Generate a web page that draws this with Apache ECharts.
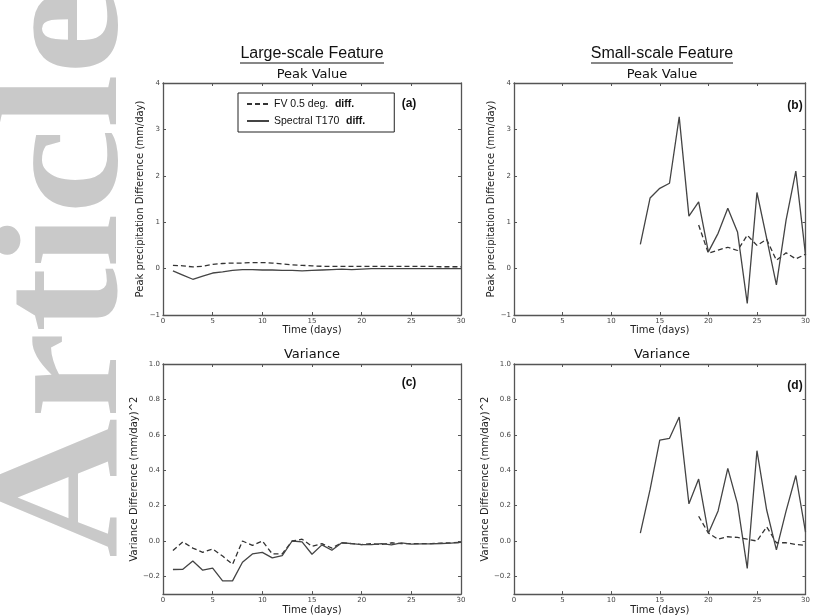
<!DOCTYPE html>
<html><head><meta charset="utf-8">
<script src="https://cdn.jsdelivr.net/npm/echarts@6/dist/echarts.min.js"></script>
<style>html,body{margin:0;padding:0;background:#fff}#c{width:813px;height:616px}</style>
</head><body><div id="c"></div>
<script>
// ---------- data ----------
const daysAll = [1,2,3,4,5,6,7,8,9,10,11,12,13,14,15,16,17,18,19,20,21,22,23,24,25,26,27,28,29,30];
const daysSp = [13,14,15,16,17,18,19,20,21,22,23,24,25,26,27,28,29,30];
const daysFv = [19,20,21,22,23,24,25,26,27,28,29,30];

// (a) Large-scale, peak value
const aFV = [0.07,0.06,0.035,0.05,0.09,0.11,0.12,0.12,0.13,0.13,0.12,0.10,0.08,0.07,0.06,0.05,0.05,0.05,0.05,0.05,0.05,0.05,0.05,0.05,0.05,0.05,0.05,0.04,0.04,0.04];
const aSP = [-0.05,-0.14,-0.23,-0.16,-0.095,-0.07,-0.04,-0.02,-0.02,-0.03,-0.03,-0.04,-0.04,-0.05,-0.04,-0.03,-0.02,-0.01,-0.02,-0.01,0,0,0,0,0,0,0,0,0,0];
// (b) Small-scale, peak value
const bSP = [0.52,1.52,1.73,1.84,3.27,1.13,1.44,0.36,0.76,1.30,0.79,-0.75,1.64,0.65,-0.35,1.05,2.10,0.29];
const bFV = [0.94,0.33,0.40,0.46,0.39,0.72,0.50,0.63,0.18,0.34,0.21,0.31];
// (c) Large-scale, variance
const cSP = [-0.161,-0.16,-0.113,-0.165,-0.153,-0.225,-0.225,-0.12,-0.073,-0.064,-0.095,-0.082,0,-0.005,-0.075,-0.022,-0.052,-0.01,-0.015,-0.02,-0.02,-0.015,-0.022,-0.01,-0.018,-0.016,-0.016,-0.014,-0.012,-0.008];
const cFV = [-0.054,-0.005,-0.04,-0.064,-0.045,-0.085,-0.132,0,-0.025,0,-0.073,-0.073,0,0.01,-0.03,-0.015,-0.04,-0.01,-0.015,-0.02,-0.015,-0.02,-0.01,-0.015,-0.015,-0.015,-0.015,-0.012,-0.01,-0.008];
// (d) Small-scale, variance
const dSP = [0.044,0.29,0.57,0.58,0.70,0.21,0.35,0.044,0.17,0.41,0.21,-0.155,0.51,0.175,-0.05,0.17,0.37,0.05];
const dFV = [0.14,0.045,0.01,0.024,0.02,0.01,0.0,0.08,-0.01,-0.01,-0.02,-0.024];

const xTicks = [0,5,10,15,20,25,30];
const peakTicks = [-1,0,1,2,3,4];
const varTicks = [-0.2,0.0,0.2,0.4,0.6,0.8,1.0];

const nameFV = 'FV 0.5 deg. diff.';
const nameSP = 'Spectral T170 diff.';
const peakName = 'Peak precipitation Difference (mm/day)';
const varName = 'Variance Difference (mm/day)^2';
const colTitles = ['Large-scale Feature','Small-scale Feature'];
const rowTitles = ['Peak Value','Variance'];
const panelTags = ['(a)','(b)','(c)','(d)'];

// ---------- layout ----------
const grids = [
  {left:163, top:83, width:298, height:232},
  {left:514, top:83, width:297, height:232},
  {left:163, top:364, width:298, height:231},
  {left:514, top:364, width:297, height:231}
];
const FONT = '"DejaVu Sans", sans-serif';
const frame = {onZero:false, lineStyle:{color:'#555', width:1.3}};
const fmt = (d) => (v) => (v < 0 ? '\u2212' : '') + Math.abs(v).toFixed(d);

const xAxis = [], yAxis = [];
grids.forEach((g, i) => {
  const isPeak = i < 2;
  xAxis.push({
    type:'value', gridIndex:i, min:0, max:30, position:'bottom',
    axisLine:frame, splitLine:{show:false},
    axisTick:{inside:true, length:3, lineStyle:{color:'#555'}, customValues:xTicks},
    axisLabel:{fontSize:7, color:'#444', fontFamily:FONT, margin:3, customValues:xTicks, formatter:fmt(0)},
    name:'Time (days)', nameLocation:'middle', nameGap: isPeak ? 9 : 10,
    nameTextStyle:{fontSize:10, color:'#222', fontFamily:FONT}
  });
  xAxis.push({
    type:'value', gridIndex:i, min:0, max:30, position:'top',
    axisLine:frame, splitLine:{show:false},
    axisTick:{inside:true, length:3, lineStyle:{color:'#555'}, customValues:xTicks},
    axisLabel:{show:false}
  });
  const yt = isPeak ? peakTicks : varTicks;
  yAxis.push({
    type:'value', gridIndex:i, min: isPeak ? -1 : -0.3, max: isPeak ? 4 : 1.0, position:'left',
    axisLine:{show:true, ...frame}, splitLine:{show:false},
    axisTick:{show:true, inside:true, length:3, lineStyle:{color:'#555'}, customValues:yt},
    axisLabel:{fontSize:7, color:'#444', fontFamily:FONT, margin:3, customValues:yt, formatter:fmt(isPeak ? 0 : 1)},
    name: isPeak ? peakName : varName,
    nameLocation:'middle', nameGap: isPeak ? 14 : 22,
    nameTextStyle:{fontSize:10, color:'#222', fontFamily:FONT}
  });
  yAxis.push({
    type:'value', gridIndex:i, min: isPeak ? -1 : -0.3, max: isPeak ? 4 : 1.0, position:'right',
    axisLine:{show:true, ...frame}, splitLine:{show:false},
    axisTick:{show:true, inside:true, length:3, lineStyle:{color:'#555'}, customValues:yt},
    axisLabel:{show:false}
  });
});
yAxis[4].nameGap = 23;

const pairs = (xs, ys) => xs.map((x, k) => [x, ys[k]]);
const dashed = {color:'#333', width:1.3, type:[5,3]};
const solid = {color:'#444', width:1.3};
function mk(name, gi, data, ls) {
  return {name, type:'line', xAxisIndex:gi*2, yAxisIndex:gi*2, data, symbol:'none',
    lineStyle:ls, itemStyle:{color:ls.color}, animation:false, silent:true};
}
const series = [
  mk(nameFV, 0, pairs(daysAll, aFV), dashed), mk(nameSP, 0, pairs(daysAll, aSP), solid),
  mk(nameFV, 1, pairs(daysFv, bFV), dashed), mk(nameSP, 1, pairs(daysSp, bSP), solid),
  mk(nameFV, 2, pairs(daysAll, cFV), dashed), mk(nameSP, 2, pairs(daysAll, cSP), solid),
  mk(nameFV, 3, pairs(daysFv, dFV), dashed), mk(nameSP, 3, pairs(daysSp, dSP), solid)
];

const T = (x, y, text, font, extra) => ({type:'text', x, y,
  style:Object.assign({text, font, fill:'#111', textAlign:'center', textVerticalAlign:'middle'}, extra || {})});
const graphic = [
  {type:'text', x:71, y:558, rotation:Math.PI/2, scaleX:1.1, z:-10,
   style:{text:'Article', font:'bold 176px "Liberation Serif"', fill:'#c9c9c9', textVerticalAlign:'middle', textAlign:'left'}},
  T(312, 54, colTitles[0], '16px "Liberation Sans"'),
  T(662, 54, colTitles[1], '16px "Liberation Sans"'),
  {type:'line', shape:{x1:240, y1:63, x2:384, y2:63}, style:{stroke:'#111', lineWidth:1.2}},
  {type:'line', shape:{x1:591, y1:63, x2:733, y2:63}, style:{stroke:'#111', lineWidth:1.2}},
  T(312, 75, rowTitles[0], '13px ' + FONT),
  T(662, 75, rowTitles[0], '13px ' + FONT),
  T(312, 355, rowTitles[1], '13px ' + FONT),
  T(662, 355, rowTitles[1], '13px ' + FONT),
  T(409, 104, panelTags[0], 'bold 12px "Liberation Sans"'),
  T(795, 106, panelTags[1], 'bold 12px "Liberation Sans"'),
  T(409, 383, panelTags[2], 'bold 12px "Liberation Sans"'),
  T(795, 386, panelTags[3], 'bold 12px "Liberation Sans"')
];

const chart = echarts.init(document.getElementById('c'), null, {renderer:'canvas'});
chart.setOption({
  backgroundColor:'#fff',
  animation:false,
  grid: grids.map(g => ({...g, containLabel:false})),
  xAxis, yAxis, series, graphic,
  legend:{
    left:238, top:93, orient:'vertical', data:[nameFV, nameSP],
    borderColor:'#222', borderWidth:1, borderRadius:0, padding:[5,29,5,8],
    itemWidth:22, itemHeight:8, itemGap:5, selectedMode:false,
    itemStyle:{opacity:0, borderWidth:0},
    formatter: n => n === nameFV ? '{n|FV 0.5 deg.}  {b|diff.}' : '{n|Spectral T170}  {b|diff.}',
    textStyle:{rich:{
      n:{fontSize:10.5, fontFamily:'"Liberation Sans"', color:'#111'},
      b:{fontSize:10.5, fontWeight:'bold', fontFamily:'"Liberation Sans"', color:'#111'}
    }}
  }
});
</script></body></html>
